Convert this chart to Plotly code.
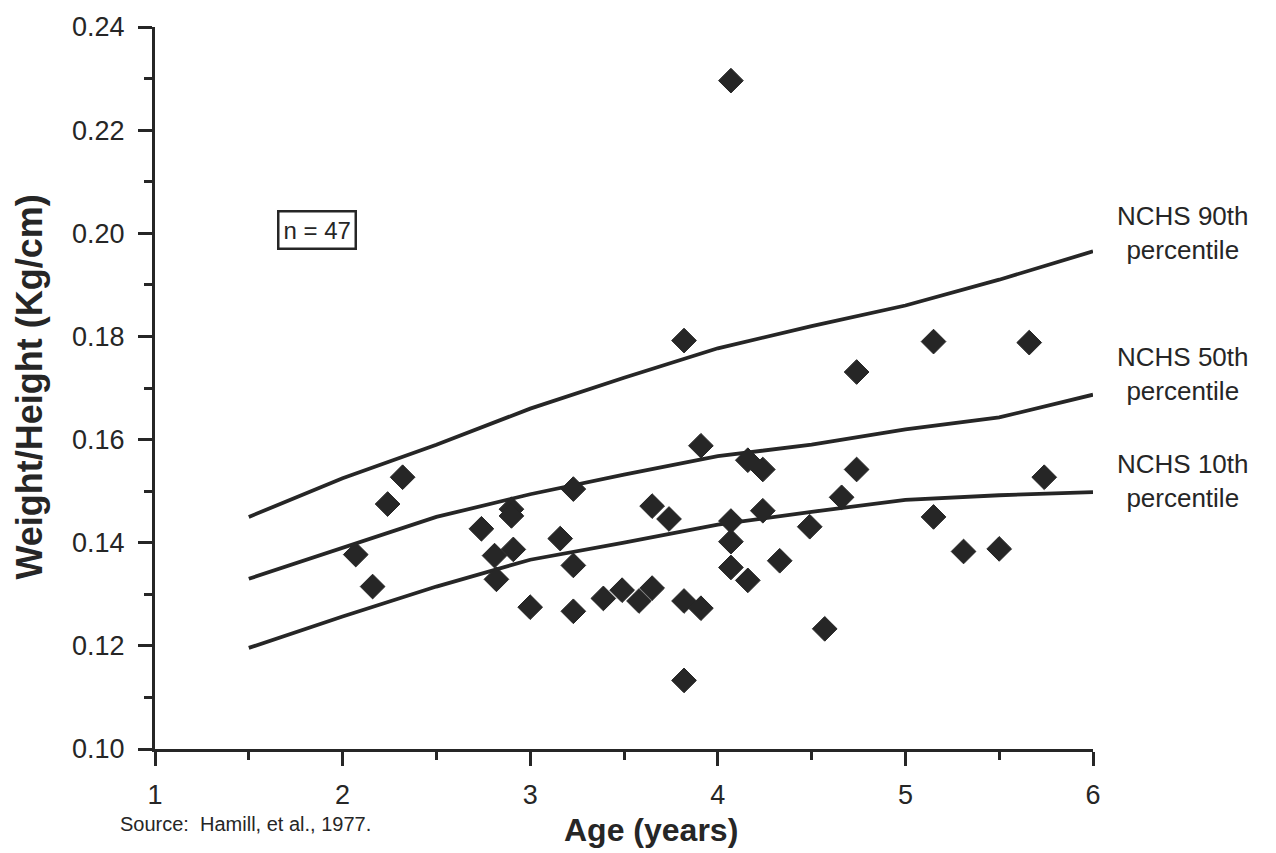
import plotly.graph_objects as go

# Observed weight/height ratios by age
age = [2.07, 2.16, 2.24, 2.32, 2.74, 2.81, 2.82, 2.90, 2.90, 2.91,
       3.00, 3.16, 3.23, 3.23, 3.23, 3.39, 3.49, 3.58, 3.65, 3.65,
       3.74, 3.82, 3.82, 3.82, 3.91, 3.91, 4.07, 4.07, 4.07, 4.07,
       4.16, 4.16, 4.24, 4.24, 4.33, 4.49, 4.57, 4.66, 4.74, 4.74,
       5.15, 5.15, 5.31, 5.50, 5.66, 5.74]
ratio = [0.1377, 0.1315, 0.1475, 0.1527, 0.1427, 0.1375, 0.1329, 0.1465, 0.1452, 0.1387,
         0.1275, 0.1408, 0.1504, 0.1356, 0.1267, 0.1292, 0.1308, 0.1287, 0.1312, 0.1471,
         0.1446, 0.1792, 0.1287, 0.1133, 0.1588, 0.1273, 0.2296, 0.1402, 0.1442, 0.1352,
         0.1560, 0.1327, 0.1542, 0.1462, 0.1365, 0.1431, 0.1233, 0.1488, 0.1731, 0.1542,
         0.1790, 0.1450, 0.1383, 0.1388, 0.1788, 0.1527]

# NCHS reference percentiles
ref_age = [1.5, 2.0, 2.5, 3.0, 3.5, 4.0, 4.5, 5.0, 5.5, 6.0]
p90 = [0.1450, 0.1525, 0.1590, 0.1660, 0.1720, 0.1777, 0.1820, 0.1860, 0.1910, 0.1965]
p50 = [0.1330, 0.1390, 0.1450, 0.1494, 0.1532, 0.1568, 0.1590, 0.1620, 0.1643, 0.1687]
p10 = [0.1196, 0.1257, 0.1315, 0.1367, 0.1400, 0.1435, 0.1460, 0.1483, 0.1492, 0.1498]

curve_labels = ["NCHS 90th<br>percentile", "NCHS 50th<br>percentile", "NCHS 10th<br>percentile"]
label_y = [0.2001, 0.1728, 0.1520]

x_ticks = [1, 2, 3, 4, 5, 6]
y_ticks = [0.10, 0.12, 0.14, 0.16, 0.18, 0.20, 0.22, 0.24]

INK = "#262626"
FONT = "Liberation Sans, Arial, Helvetica, sans-serif"

fig = go.Figure()

for curve in (p90, p50, p10):
    fig.add_trace(go.Scatter(
        x=ref_age, y=curve, mode="lines",
        line=dict(color=INK, width=3.8),
        hoverinfo="skip", showlegend=False,
    ))

fig.add_trace(go.Scatter(
    x=age, y=ratio, mode="markers",
    marker=dict(symbol="diamond", size=19, color=INK,
                line=dict(color=INK, width=1)),
    showlegend=False,
))

for text, y in zip(curve_labels, label_y):
    fig.add_annotation(
        x=1.096, xref="paper", y=y, yref="y", text=text,
        showarrow=False, xanchor="center", yanchor="middle", align="center",
        font=dict(family=FONT, size=26, color=INK),
    )

fig.add_annotation(
    x=1.863, y=0.2006, text="n = 47", showarrow=False,
    xanchor="center", yanchor="middle",
    font=dict(family=FONT, size=24, color=INK),
    bordercolor=INK, borderwidth=2.5, borderpad=4, bgcolor="white",
)

# y-axis title
fig.add_annotation(
    x=-0.1333, xref="paper", y=0.502, yref="paper",
    text="<b>Weight/Height (Kg/cm)</b>", textangle=-90, showarrow=False,
    xanchor="center", yanchor="middle",
    font=dict(family=FONT, size=36, color=INK),
)

fig.add_annotation(
    x=-0.0395, xref="paper", y=-0.104, yref="paper",
    text="Source:  Hamill, et al., 1977.", showarrow=False,
    xanchor="left", yanchor="middle",
    font=dict(family=FONT, size=20, color=INK),
)
fig.add_annotation(
    x=0.5285, xref="paper", y=-0.1125, yref="paper",
    text="<b>Age (years)</b>", showarrow=False,
    xanchor="center", yanchor="middle",
    font=dict(family=FONT, size=32, color=INK),
)

fig.update_xaxes(
    range=[1, 6], tickvals=x_ticks, ticks="outside", ticklen=14, tickwidth=3,
    tickcolor=INK, showline=True, linecolor=INK, linewidth=3.2,
    showgrid=False, zeroline=False, ticklabelstandoff=5,
    tickfont=dict(family=FONT, size=27, color=INK),
    minor=dict(dtick=0.5, ticks="outside", ticklen=8, tickwidth=3, tickcolor=INK, showgrid=False),
)
fig.update_yaxes(
    range=[0.10, 0.24], tickvals=y_ticks, tickformat=".2f", ticks="outside",
    ticklen=14, tickwidth=3, tickcolor=INK, showline=True, linecolor=INK,
    linewidth=3.2, showgrid=False, zeroline=False, ticklabelstandoff=8,
    tickfont=dict(family=FONT, size=27, color=INK),
    minor=dict(dtick=0.01, ticks="outside", ticklen=8, tickwidth=3, tickcolor=INK, showgrid=False),
)

fig.update_layout(
    width=1276, height=853,
    margin=dict(l=155, r=183, t=22, b=104),
    paper_bgcolor="white", plot_bgcolor="white",
    font=dict(family=FONT, color=INK),
)

fig.write_html("out.html")
